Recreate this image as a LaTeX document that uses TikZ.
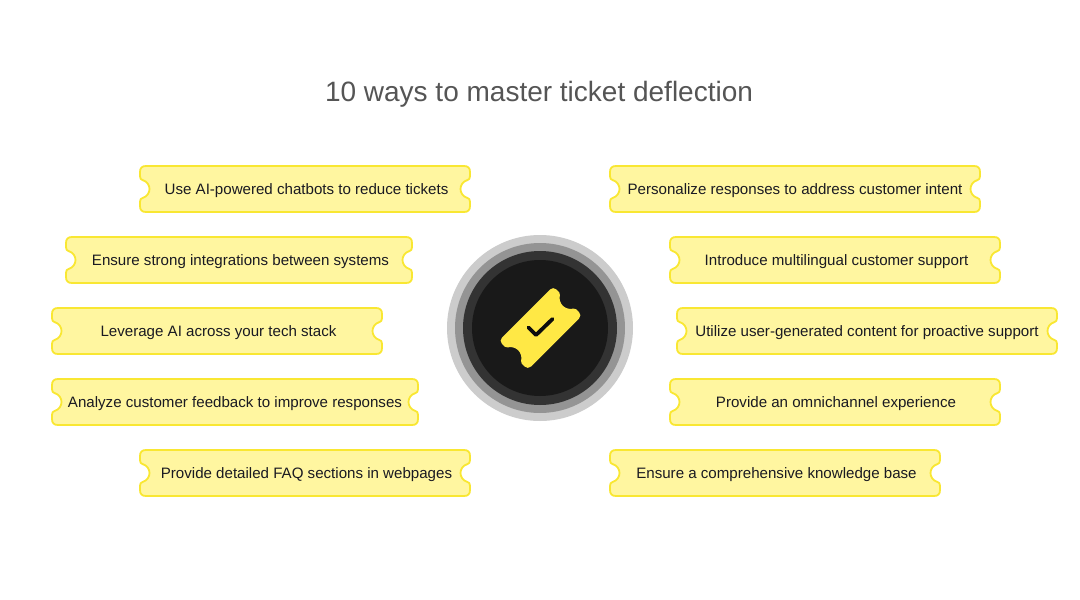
\documentclass[tikz,border=0pt]{standalone}
\usepackage{fontspec}
\setmainfont{Liberation Sans}
\definecolor{tfill}{HTML}{FFF6A0}
\definecolor{tline}{HTML}{F9E732}
\definecolor{iconY}{HTML}{FFE845}
\definecolor{ink}{HTML}{1A1A22}
\definecolor{titleC}{HTML}{555555}
\tikzset{
  ticketshape/.style={draw=tline,fill=tfill,line width=1.8pt,line join=round},
  ticketlabel/.style={text=ink,font=\fontsize{15.1}{18}\selectfont,inner sep=0pt,anchor=base},
  titlelabel/.style={text=titleC,font=\fontsize{28}{34}\selectfont,inner sep=0pt,anchor=base},
}
% #1 name, #2 x0, #3 x1, #4 y centre, #5 text centre x, #6 text
\newcommand\ticketbox[6]{%
  \path[ticketshape] (#2+6,#4-23)
    -- (#3-6,#4-23) .. controls (#3-2,#4-23) and (#3,#4-21) .. (#3,#4-17)
    -- (#3,#4-13) .. controls (#3,#4-10.5) and (#3-.8,#4-9.5) .. (#3-2.5,#4-9)
    .. controls (#3-7,#4-7.5) and (#3-9.5,#4-4) .. (#3-9.5,#4)
    .. controls (#3-9.5,#4+4) and (#3-7,#4+7.5) .. (#3-2.5,#4+9)
    .. controls (#3-.8,#4+9.5) and (#3,#4+10.5) .. (#3,#4+13)
    -- (#3,#4+17) .. controls (#3,#4+21) and (#3-2,#4+23) .. (#3-6,#4+23)
    -- (#2+6,#4+23) .. controls (#2+2,#4+23) and (#2,#4+21) .. (#2,#4+17)
    -- (#2,#4+13) .. controls (#2,#4+10.5) and (#2+.8,#4+9.5) .. (#2+2.5,#4+9)
    .. controls (#2+7,#4+7.5) and (#2+9.5,#4+4) .. (#2+9.5,#4)
    .. controls (#2+9.5,#4-4) and (#2+7,#4-7.5) .. (#2+2.5,#4-9)
    .. controls (#2+.8,#4-9.5) and (#2,#4-10.5) .. (#2,#4-13)
    -- (#2,#4-17) .. controls (#2,#4-21) and (#2+2,#4-23) .. (#2+6,#4-23)
    -- cycle;
  \node[ticketlabel] (#1) at (#5,#4+5) {#6};
}
\begin{document}
\begin{tikzpicture}[x=1pt,y=-1pt]
\useasboundingbox (0,0) rectangle (1080,600);
\fill[white] (0,0) rectangle (1080,600);
\node[titlelabel] (title) at (539,101) {10 ways to master ticket deflection};

\ticketbox{l1}{140}{470}{189}{306.5}{Use AI-powered chatbots to reduce tickets}
\ticketbox{l2}{66}{412}{260}{240.5}{Ensure strong integrations between systems}
\ticketbox{l3}{52}{382}{331}{218.5}{Leverage AI across your tech stack}
\ticketbox{l4}{52}{418}{402}{235}{Analyze customer feedback to improve responses}
\ticketbox{l5}{140}{470}{473}{306.5}{Provide detailed FAQ sections in webpages}
\ticketbox{r1}{610}{980}{189}{795}{Personalize responses to address customer intent}
\ticketbox{r2}{670}{1000}{260}{836.5}{Introduce multilingual customer support}
\ticketbox{r3}{677}{1057}{331}{867}{Utilize user-generated content for proactive support}
\ticketbox{r4}{670}{1000}{402}{836}{Provide an omnichannel experience}
\ticketbox{r5}{610}{940}{473}{776.5}{Ensure a comprehensive knowledge base}

\fill[fill=black!20] (540,328) circle[radius=93];
\fill[fill=black!42] (540,328) circle[radius=85];
\fill[fill=black!80] (540,328) circle[radius=77];
\fill[fill=black!90] (540,328) circle[radius=68];

\begin{scope}[shift={(540.5,328)},rotate=45]
\fill[iconY] (-34,-20.5)
  -- (34,-20.5) .. controls (36.5,-20.5) and (38.5,-18.5) .. (38.5,-16)
  -- (38.5,-12) .. controls (38.5,-10.5) and (38,-10) .. (37,-9.5)
  .. controls (34,-8) and (31.5,-4) .. (31.5,0)
  .. controls (31.5,4) and (34,8) .. (37,9.5)
  .. controls (38,10) and (38.5,10.5) .. (38.5,12)
  -- (38.5,16) .. controls (38.5,18.5) and (36.5,20.5) .. (34,20.5)
  -- (-34,20.5) .. controls (-36.5,20.5) and (-38.5,18.5) .. (-38.5,16)
  -- (-38.5,12) .. controls (-38.5,10.5) and (-38,10) .. (-37,9.5)
  .. controls (-34,8) and (-31.5,4) .. (-31.5,0)
  .. controls (-31.5,-4) and (-34,-8) .. (-37,-9.5)
  .. controls (-38,-10) and (-38.5,-10.5) .. (-38.5,-12)
  -- (-38.5,-16) .. controls (-38.5,-18.5) and (-36.5,-20.5) .. (-34,-20.5) -- cycle;
\end{scope}
\draw[line width=3.8pt,black!95,line cap=round,line join=round] (528.5,327.5) -- (536,335) -- (552.5,319);
\end{tikzpicture}
\end{document}
